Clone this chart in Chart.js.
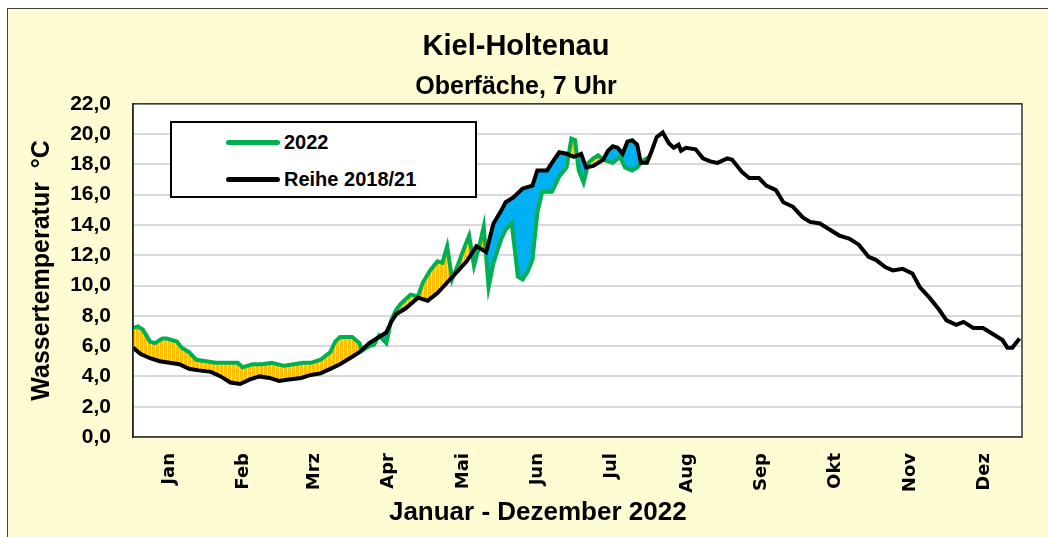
<!DOCTYPE html>
<html>
<head>
<meta charset="utf-8">
<script src="https://cdn.jsdelivr.net/npm/chart.js@4.4.1/dist/chart.umd.min.js"></script>
<style>
  html, body { margin: 0; padding: 0; background: #fff; overflow: hidden; }
  #frame { position: absolute; left: 7px; top: 8px; width: 1045px; height: 540px; background: #FFFBD3; border: 1.5px solid #404040; box-sizing: border-box; }
  #chart { position: absolute; left: 0; top: 0; }
  #legend { position: absolute; left: 170px; top: 121px; width: 307px; height: 77px; box-sizing: border-box;
            border: 2px solid #000; background: #fff; font: bold 20px 'Liberation Sans', Arial, sans-serif; color: #000; }
  .item { position: absolute; left: 54px; height: 24px; display: flex; align-items: center; white-space: nowrap; }
  .swatch { width: 54px; height: 5px; border-radius: 3px; margin-right: 4px; }
</style>
</head>
<body>
<div id="frame"></div>
<canvas id="chart" width="1048" height="537" style="width:1048px;height:537px"></canvas>
<div id="legend">
  <div class="item" style="top:7px"><span class="swatch" style="background:#00B050"></span>2022</div>
  <div class="item" style="top:44px"><span class="swatch" style="background:#000"></span>Reihe 2018/21</div>
</div>
<script>
// --- Data (day of year, °C) ---
const avgDays = [0, 3, 7, 11, 15, 19, 23, 27, 32, 36, 40, 44, 48, 52, 56, 60, 64, 69, 73, 77,
  81, 85, 89, 93, 97, 101, 104, 106, 108, 112, 117, 121, 125, 129, 133, 137, 141, 145, 148, 151,
  153, 156, 160, 164, 166, 170, 172, 175, 178, 181, 184, 186, 189, 193, 195, 197, 199, 201, 203, 205,
  207, 208.5, 211, 213, 215, 217.5, 220, 222, 224, 225, 227, 231, 234, 237, 240, 244, 246, 250, 253, 257,
  260, 264, 267, 271, 275, 278, 282, 286, 290, 294, 298, 302, 305, 309, 312, 316, 320, 323, 327, 331,
  334, 338, 341, 345, 349, 352, 355, 357, 359, 361, 364];
const avgTemps = [5.9, 5.5, 5.2, 5.0, 4.9, 4.8, 4.5, 4.4, 4.3, 4.0, 3.6, 3.5, 3.8, 4.0, 3.9, 3.7, 3.8, 3.9, 4.1, 4.2,
  4.5, 4.8, 5.2, 5.6, 6.2, 6.6, 6.9, 7.6, 8.1, 8.5, 9.2, 9.0, 9.5, 10.2, 10.9, 11.6, 12.6, 12.2, 14.1, 14.9,
  15.5, 15.8, 16.4, 16.6, 17.6, 17.6, 18.1, 18.8, 18.7, 18.5, 18.7, 17.8, 17.9, 18.3, 18.9, 19.2, 19.1, 18.7, 19.5, 19.6,
  19.3, 18.1, 18.1, 18.9, 19.8, 20.1, 19.4, 19.1, 19.3, 18.9, 19.1, 19.0, 18.4, 18.2, 18.1, 18.4, 18.3, 17.5, 17.1, 17.1,
  16.6, 16.3, 15.5, 15.2, 14.5, 14.2, 14.1, 13.7, 13.3, 13.1, 12.7, 11.9, 11.7, 11.2, 11.0, 11.1, 10.8, 9.9, 9.2, 8.4,
  7.7, 7.4, 7.6, 7.2, 7.2, 6.9, 6.6, 6.4, 5.9, 5.9, 6.5];

const curDays = [0, 2, 4, 7, 9, 12, 14, 18, 20, 23, 26, 30, 34, 40, 43, 45, 49, 53, 57, 62,
  66, 70, 73, 77, 81, 83, 85, 88, 90, 93, 94, 97, 99, 101, 104, 106, 108, 110, 114, 117,
  119, 122, 125, 127, 129, 131, 133, 136, 138, 140, 142, 144, 146, 148, 151, 153, 155.5, 157, 158, 160,
  162, 164, 166, 168, 172, 175, 178, 180, 181.5, 183, 185, 187, 189, 191, 193, 197, 200, 202, 205, 207,
  209, 211, 212.5];
const curTemps = [7.2, 7.3, 7.1, 6.3, 6.2, 6.5, 6.5, 6.3, 5.9, 5.6, 5.1, 5.0, 4.9, 4.9, 4.9, 4.6, 4.8, 4.8, 4.9, 4.7,
  4.8, 4.9, 4.9, 5.1, 5.6, 6.3, 6.6, 6.6, 6.6, 6.2, 5.7, 6.0, 6.1, 6.7, 6.2, 7.7, 8.4, 8.8, 9.4, 9.3,
  10.2, 11.0, 11.6, 11.5, 12.6, 10.4, 11.2, 12.5, 13.3, 11.3, 12.5, 13.9, 9.9, 11.5, 13.0, 13.7, 14.1, 12.0, 10.6, 10.4,
  10.9, 11.7, 14.8, 16.2, 16.2, 17.2, 17.8, 19.7, 19.6, 17.6, 16.8, 18.1, 18.4, 18.6, 18.3, 18.1, 18.5, 17.8, 17.6, 17.8,
  18.2, 18.4, 18.5];

const monthNames = ['Jan', 'Feb', 'Mrz', 'Apr', 'Mai', 'Jun', 'Jul', 'Aug', 'Sep', 'Okt', 'Nov', 'Dez'];
const monthMid = [15, 45.5, 74.5, 105, 135.5, 166, 196.5, 227.5, 258, 288.5, 319, 349.5];

const toPoints = (xs, ys) => xs.map((x, i) => ({ x: x, y: ys[i] }));

// orange fill with thin vertical hatching, like the Excel original
function hatch() {
    const pc = document.createElement('canvas');
    pc.width = 4; pc.height = 4;
    const p = pc.getContext('2d');
    p.fillStyle = '#FFC000';
    p.fillRect(0, 0, 4, 4);
    p.fillStyle = '#FFE07A';
    p.fillRect(3, 0, 1, 4);
    return p.createPattern(pc, 'repeat');
}

const SANS = "'Liberation Sans', Arial, sans-serif";

// white plot area + dark frame around it
const plotFrame = {
    id: 'plotFrame',
    beforeDraw(chart) {
        const { ctx, chartArea: a } = chart;
        ctx.save();
        ctx.fillStyle = '#fff';
        ctx.fillRect(a.left, a.top, a.width, a.height);
        ctx.restore();
    },
    afterDraw(chart) {
        const { ctx, chartArea: a } = chart;
        ctx.save();
        ctx.strokeStyle = '#333';
        ctx.lineWidth = 1.5;
        ctx.strokeRect(a.left, a.top, a.width, a.height);
        ctx.restore();
    }
};

const chart = new Chart(document.getElementById('chart'), {
    type: 'line',
    data: {
        datasets: [
            { label: 'Reihe 2018/21', data: toPoints(avgDays, avgTemps), borderColor: '#000', borderWidth: 4,
              pointRadius: 0, fill: false },
            { label: '2022', data: toPoints(curDays, curTemps), borderColor: '#00B050', borderWidth: 4,
              pointRadius: 0, fill: { target: 0, above: hatch(), below: '#00B0F0' } }
        ]
    },
    options: {
        responsive: false,
        animation: false,
        layout: { padding: { left: 10, right: 26, top: 0, bottom: 0 } },
        plugins: {
            legend: { display: false },
            tooltip: { enabled: false },
            title: { display: true, text: 'Kiel-Holtenau', color: '#000',
                     font: { family: SANS, size: 29, weight: 'bold' }, padding: { top: 30, bottom: 7 } },
            subtitle: { display: true, text: 'Oberfäche, 7 Uhr', color: '#000',
                        font: { family: SANS, size: 25, weight: 'bold' }, padding: { top: 0, bottom: 2 } }
        },
        scales: {
            x: {
                type: 'linear', min: 0, max: 365,
                afterFit: s => { s.height = 100; },
                afterBuildTicks: s => { s.ticks = monthMid.map(v => ({ value: v })); },
                grid: { display: false },
                border: { color: '#888', width: 1.5 },
                ticks: { autoSkip: false, minRotation: 90, maxRotation: 90, padding: 8, color: '#000',
                         font: { family: "'DejaVu Sans', Verdana, sans-serif", size: 18, weight: 'bold' },
                         callback: (v, i) => monthNames[i] },
                title: { display: true, text: 'Januar - Dezember 2022\u00A0\u00A0\u00A0\u00A0\u00A0\u00A0\u00A0\u00A0\u00A0\u00A0\u00A0',
                         color: '#000', font: { family: SANS, size: 26, weight: 'bold' }, padding: { top: 0, bottom: 9 } }
            },
            y: {
                min: 0, max: 22,
                afterFit: s => { s.width = 123; },
                grid: { color: '#D9D9D9', lineWidth: 2, drawTicks: false },
                border: { color: '#000', width: 1.5 },
                ticks: { stepSize: 2, padding: 22, color: '#000',
                         font: { family: SANS, size: 21, weight: 'bold' },
                         callback: v => v.toFixed(1).replace('.', ',') },
                title: { display: true, text: 'Wassertemperatur  °C', color: '#000',
                         font: { family: SANS, size: 25, weight: 'bold' }, padding: { top: 17, bottom: 0 } }
            }
        }
    },
    plugins: [plotFrame]
});
</script>
</body>
</html>
